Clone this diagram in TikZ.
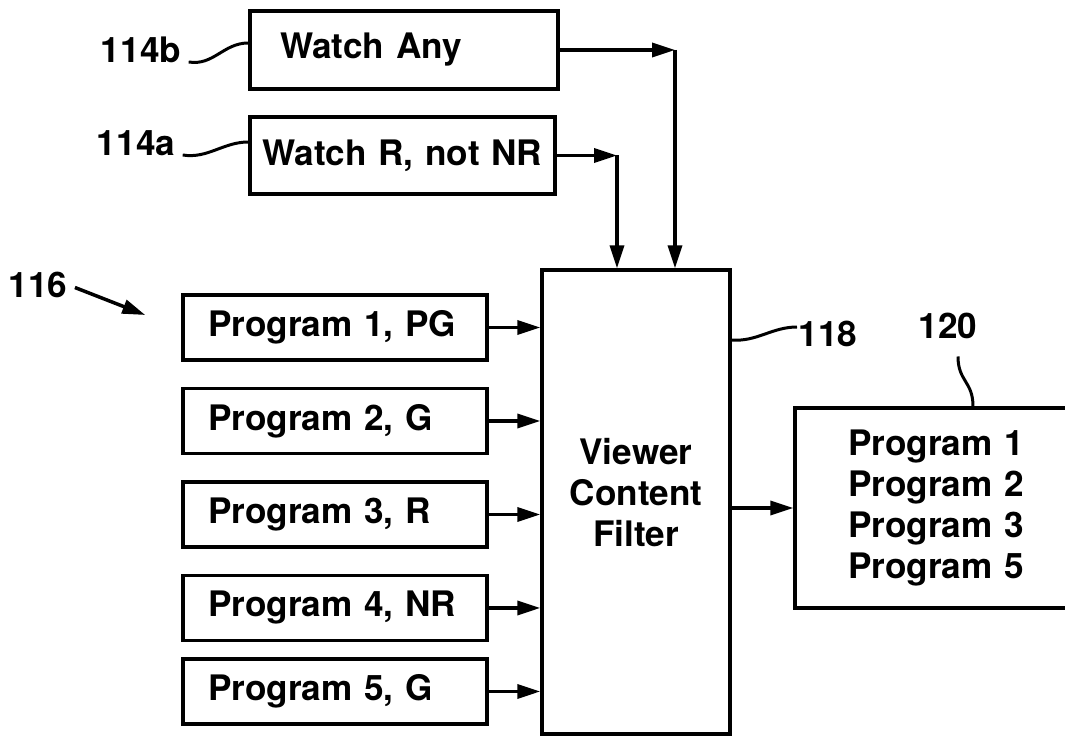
\documentclass[tikz,border=0pt]{standalone}
\usepackage{fontspec}
\setmainfont{TeX Gyre Heros}
\usetikzlibrary{arrows.meta,positioning}

\begin{document}
\begin{tikzpicture}[x=0.02cm, y=-0.02cm, line width=2pt,
  every node/.style={font={\fontsize{20}{23.3}\selectfont\bfseries}},
  box/.style={rectangle, draw, line width=2pt, align=left},
  prog/.style={box, text width=5.08cm, inner xsep=0.5cm, minimum height=1.3cm},
  arr/.style={-{Triangle[length=4.6mm, width=2.8mm]}},
  lead/.style={line width=1.7pt}]
\useasboundingbox (0,0) rectangle (1065,739);
% rating rules
\node[box, text width=4.96cm, inner xsep=0.6cm, minimum height=1.56cm] (wany) at (404,50) {Watch Any};
\node[box, text width=5.6cm, inner xsep=0.25cm, minimum height=1.54cm] (wr) at (402.5,155.5) {Watch R, not NR};
% incoming programs
\node[prog] (p1) at (335,327.5) {Program 1, PG};
\node[prog, below=0.5cm of p1] (p2) {Program 2, G};
\node[prog, below=0.5cm of p2] (p3) {Program 3, R};
\node[prog, below=0.5cm of p3] (p4) {Program 4, NR};
\node[prog, below=0.3cm of p4] (p5) {Program 5, G};
% filter and result
\node[box, align=center, minimum width=3.76cm, minimum height=9.28cm] (filter) at (636,502) {Viewer\\Content\\Filter\\[-0.45cm]};
\node[box, text width=3.88cm, inner xsep=1.06cm, minimum height=4cm] (out) at (945,508) {Program 1\\Program 2\\Program 3\\Program 5};
% reference numerals
\node (l114b) at (141,50) {114b};
\node (l114a) at (136,143) {114a};
\node (l116) at (38,285) {116};
\node[anchor=west, inner xsep=0pt] (l118) at (797,334) {118};
\node (l120) at (948,326) {120};
\coordinate (cany) at (675,50);
\coordinate (cwr) at (617,155.5);
\draw[arr] (wany.east) -- (cany);
\draw[arr] (cany) -- (cany |- filter.north);
\draw[arr] (wr.east) -- (cwr);
\draw[arr] (cwr) -- (cwr |- filter.north);
\draw[arr] (p1.east) -- (p1.east -| filter.west);
\draw[arr] (p2.east) -- (p2.east -| filter.west);
\draw[arr] (p3.east) -- (p3.east -| filter.west);
\draw[arr] (p4.east) -- (p4.east -| filter.west);
\draw[arr] (p5.east) -- (p5.east -| filter.west);
\draw[arr] (out.west -| filter.east) -- (out.west);
\draw[lead] ([yshift=-0.24cm]l114b.east) .. controls +(25,4) and +(-25,0) .. ([yshift=0.14cm]wany.west);
\draw[lead] ([yshift=-0.24cm]l114a.east) .. controls +(25,4) and +(-25,0) .. ([yshift=0.27cm]wr.west);
\draw[arr] ([yshift=-0.05cm]l116.east) -- ([xshift=-0.72cm, yshift=0.25cm]p1.west);
\draw[lead] (filter.east |- l118) ++(0,6) .. controls +(25,2) and +(-25,0) .. ([yshift=0.14cm]l118.west);
\draw[lead] ([xshift=0.2cm, yshift=-0.2cm]l120.south) .. controls +(0,25) and +(0,-25) .. ([xshift=0.56cm]out.north);
\end{tikzpicture}
\end{document}
